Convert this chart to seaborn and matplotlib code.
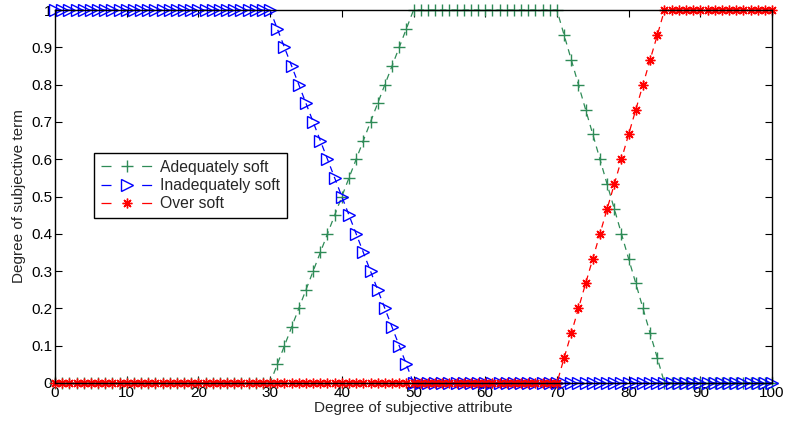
import numpy as np
import pandas as pd
import matplotlib
matplotlib.use("Agg")
import matplotlib.pyplot as plt
import seaborn as sns

sns.set_style("ticks")
plt.rcParams["font.family"] = ["Liberation Sans", "DejaVu Sans"]

# x positions (degree of subjective attribute)
attribute = list(range(0, 101))

adequately_soft = ([0.0] * 30
                   + [0.0, 0.05, 0.1, 0.15, 0.2, 0.25, 0.3, 0.35, 0.4, 0.45, 0.5,
                      0.55, 0.6, 0.65, 0.7, 0.75, 0.8, 0.85, 0.9, 0.95, 1.0]
                   + [1.0] * 19
                   + [1.0, 0.933, 0.867, 0.8, 0.733, 0.667, 0.6, 0.533,
                      0.467, 0.4, 0.333, 0.267, 0.2, 0.133, 0.067, 0.0]
                   + [0.0] * 15)
inadequately_soft = ([1.0] * 30
                     + [1.0, 0.95, 0.9, 0.85, 0.8, 0.75, 0.7, 0.65, 0.6, 0.55, 0.5,
                        0.45, 0.4, 0.35, 0.3, 0.25, 0.2, 0.15, 0.1, 0.05, 0.0]
                     + [0.0] * 50)
over_soft = ([0.0] * 70
             + [0.0, 0.067, 0.133, 0.2, 0.267, 0.333, 0.4, 0.467,
                0.533, 0.6, 0.667, 0.733, 0.8, 0.867, 0.933, 1.0]
             + [1.0] * 15)

fig = plt.figure(figsize=(7.87, 4.21), dpi=100)
ax = fig.add_axes([0.0699, 0.0903, 0.9111, 0.8857])

series = [
    ("Adequately soft", adequately_soft, "#2e8b57", "+", 9, 1.0),
    ("Inadequately soft", inadequately_soft, "#0000ff", ">", 8, 1.0),
    ("Over soft", over_soft, "#ff0000", (8, 2, 0), 7, 1.0),
]
for label, vals, color, marker, ms, mew in series:
    sns.lineplot(x=attribute, y=vals, ax=ax, color=color,
                 linestyle=(0, (5, 4)), linewidth=0.9, marker=marker,
                 markersize=ms, markerfacecolor="none",
                 markeredgecolor=color, markeredgewidth=mew, label=label,
                 clip_on=False)

ax.set_xlim(0, 100)
ax.set_ylim(0, 1)
ax.set_xticks(range(0, 101, 10))
ax.set_yticks(np.arange(0, 1.01, 0.1))
ax.set_yticklabels(["0", "0.1", "0.2", "0.3", "0.4", "0.5", "0.6", "0.7",
                    "0.8", "0.9", "1"])
ax.tick_params(direction="in", top=True, right=True, length=5, labelsize=11,
               pad=2, colors="black")
for s in ax.spines.values():
    s.set_visible(True)
    s.set_color("black")
    s.set_linewidth(1.0)
ax.set_xlabel("Degree of subjective attribute", fontsize=11, labelpad=1)
ax.set_ylabel("Degree of subjective term", fontsize=11, labelpad=4)

leg = ax.legend(loc="upper left", bbox_to_anchor=(0.054, 0.617), fontsize=11.3,
                fancybox=False, framealpha=1, edgecolor="black",
                borderpad=0.45, labelspacing=0.2, handlelength=3.3,
                handletextpad=0.5, borderaxespad=0)
leg.get_frame().set_linewidth(1.0)
# legend handles: one dash each side of the marker, as in the original
for h in leg.get_lines():
    h.set_linestyle((0, (8, 24.5)))

fig.savefig("out.png", dpi=100)
